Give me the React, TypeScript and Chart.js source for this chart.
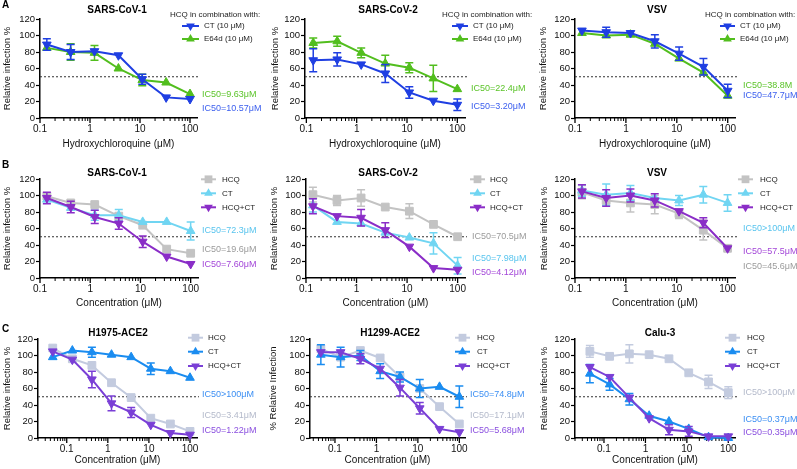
import React, { useEffect, useRef } from "react";
import { Chart, registerables } from "chart.js";
Chart.register(...registerables);

const FONT = '"Liberation Sans", Arial, Helvetica, sans-serif';
Chart.defaults.font.family = FONT;

// ---------- data ----------
const CONC_AB = [0.137, 0.41, 1.23, 3.7, 11.1, 33.3, 100];
const CONC_C = [0.0457, 0.137, 0.41, 1.23, 3.7, 11.1, 33.3, 100];
const X_TICK_LABELS = ["0.1", "1", "10", "100"];
const Y_TICKS = [0, 20, 40, 60, 80, 100, 120];

// Row A
const A1_CT = [89, 80, 81, 76, 47, 25, 23];
const A1_CT_ERR = [7, 9, 5, 5, 6, 2, 3];
const A1_E64D = [85, 80, 79, 60, 46, 43, 29];
const A1_E64D_ERR = [5, 10, 9, 2, 7, 5, 5];
const A1_IC50 = ["IC50=9.63\u03bcM", "IC50=10.57\u03bcM"];

const A2_CT = [70, 71, 65, 54, 31, 21, 16];
const A2_CT_ERR = [14, 8, 3, 11, 7, 4, 7];
const A2_E64D = [91, 93, 79, 66, 61, 48, 35];
const A2_E64D_ERR = [6, 6, 6, 10, 6, 16, 5];
const A2_IC50 = ["IC50=22.4\u03bcM", "IC50=3.20\u03bcM"];

const A3_CT = [106, 104, 103, 93, 78, 62, 33];
const A3_CT_ERR = [4, 6, 4, 8, 8, 10, 8];
const A3_E64D = [103, 100, 101, 90, 72, 55, 27];
const A3_E64D_ERR = [3, 4, 3, 4, 4, 5, 5];
const A3_IC50 = ["IC50=38.8M", "IC50=47.7\u03bcM"];

// Row B
const B1_HCQ = [99, 91, 89, 75, 64, 35, 30];
const B1_HCQ_ERR = [4, 3, 4, 4, 5, 5, 2];
const B1_CT = [95, 85, 76, 76, 68, 68, 57];
const B1_CT_ERR = [5, 4, 6, 7, 5, 2, 11];
const B1_COMBO = [97, 86, 74, 66, 44, 26, 17];
const B1_COMBO_ERR = [7, 7, 8, 7, 7, 2, 5];
const B1_IC50 = ["IC50=72.3\u03bcM", "IC50=19.6\u03bcM", "IC50=7.60\u03bcM"];

const B2_HCQ = [101, 94, 97, 86, 81, 65, 50];
const B2_HCQ_ERR = [9, 6, 10, 4, 9, 4, 2];
const B2_CT = [88, 68, 66, 55, 49, 42, 15];
const B2_CT_ERR = [8, 5, 4, 5, 5, 13, 10];
const B2_COMBO = [87, 75, 73, 58, 38, 12, 10];
const B2_COMBO_ERR = [9, 5, 10, 9, 5, 2, 2];
const B2_IC50 = ["IC50=70.5\u03bcM", "IC50=7.98\u03bcM", "IC50=4.12\u03bcM"];

const B3_HCQ = [104, 94, 91, 89, 78, 58, 36];
const B3_HCQ_ERR = [8, 6, 11, 11, 6, 12, 5];
const B3_CT = [106, 101, 103, 97, 94, 101, 91];
const B3_CT_ERR = [7, 13, 9, 4, 6, 10, 10];
const B3_COMBO = [105, 97, 100, 94, 81, 67, 36];
const B3_COMBO_ERR = [8, 10, 8, 8, 4, 6, 5];
const B3_IC50 = ["IC50>100\u03bcM", "IC50=57.5\u03bcM", "IC50=45.6\u03bcM"];

// Row C
const C1_HCQ = [109, 96, 88, 67, 49, 24, 17, 8];
const C1_HCQ_ERR = [2, 5, 2, 2, 5, 2, 1, 1];
const C1_CT = [98, 106, 104, 101, 98, 84, 81, 73];
const C1_CT_ERR = [5, 5, 6, 2, 2, 7, 2, 2];
const C1_COMBO = [105, 95, 71, 42, 31, 16, 6, 4];
const C1_COMBO_ERR = [3, 4, 10, 9, 6, 2, 2, 2];
const C1_IC50 = ["IC50>100\u03bcM", "IC50=3.41\u03bcM", "IC50=1.22\u03bcM"];

const C2_HCQ = [108, 98, 106, 97, 74, 60, 38, 17];
const C2_HCQ_ERR = [3, 4, 2, 2, 4, 2, 2, 2];
const C2_CT = [101, 98, 100, 81, 74, 60, 62, 50];
const C2_CT_ERR = [12, 12, 6, 9, 6, 11, 2, 13];
const C2_COMBO = [104, 104, 96, 84, 61, 36, 11, 7];
const C2_COMBO_ERR = [5, 2, 6, 3, 10, 7, 2, 2];
const C2_IC50 = ["IC50=74.8\u03bcM", "IC50=17.1\u03bcM", "IC50=5.68\u03bcM"];

const C3_HCQ = [105, 99, 102, 101, 96, 79, 68, 55];
const C3_HCQ_ERR = [7, 3, 11, 2, 4, 4, 8, 7];
const C3_CT = [78, 65, 47, 27, 20, 11, 1, 0];
const C3_CT_ERR = [11, 7, 7, 5, 3, 3, 1, 1];
const C3_COMBO = [86, 74, 49, 24, 10, 8, 2, 2];
const C3_COMBO_ERR = [3, 2, 4, 3, 6, 6, 2, 3];
const C3_IC50 = ["IC50>100\u03bcM", "IC50=0.37\u03bcM", "IC50=0.35\u03bcM"];

// ---------- styles ----------
const A_BLUE = "#1f3fe2";
const A_BLUE_T = "#3d60ee";
const A_GREEN = "#52be1e";
const A_GREEN_T = "#5cc42a";
const B_GRAY = "#c3c3c3";
const B_GRAY_T = "#9b9b9b";
const B_CYAN = "#70d5f2";
const B_CYAN_T = "#58c4ee";
const B_PURPLE = "#8a2dc7";
const B_PURPLE_T = "#a346d8";
const C_GRAY = "#c3cbdf";
const C_GRAY_T = "#b4bacb";
const C_BLUE = "#1a8cf0";
const C_BLUE_T = "#3c8ff3";
const C_PURPLE = "#7a3fd6";
const C_PURPLE_T = "#8a4fdf";

type Marker = "up" | "down" | "square";
type Series = { label: string; values: number[]; errors: number[]; color: string; marker: Marker };
type Panel = {
  key: string;
  z: number;
  letter?: string;
  letterY?: number;
  x: number; y: number; w: number; h: number;
  left: number; right: number; xTitleY: number;
  title: string; titleX: number; titleY: number;
  xTitle: string; yTitle: string; yTitleX: number;
  xMin: number; xMax: number; conc: number[];
  series: Series[];
  topFirst: boolean;
  legendTitle?: string; legendTitleX?: number; legendTitleY?: number;
  legendX1: number; legendX2: number; legendTextX: number; legendY: number[];
  ic50: string[]; ic50Colors: string[]; ic50X: number; ic50Y: number[];
};

const COMBO_TITLE = "HCQ in combination with:";
const HCQ_X = "Hydroxychloroquine (\u03bcM)";
const CONC_X = "Concentration (\u03bcM)";
const Y_T = "Relative infection %";

const rowA = (ct: number[], cte: number[], e: number[], ee: number[]): Series[] => [
  { label: "CT (10 \u03bcM)", values: ct, errors: cte, color: A_BLUE, marker: "down" },
  { label: "E64d (10 \u03bcM)", values: e, errors: ee, color: A_GREEN, marker: "up" },
];
const rowB = (h: number[], he: number[], c: number[], ce: number[], m: number[], me: number[]): Series[] => [
  { label: "HCQ", values: h, errors: he, color: B_GRAY, marker: "square" },
  { label: "CT", values: c, errors: ce, color: B_CYAN, marker: "up" },
  { label: "HCQ+CT", values: m, errors: me, color: B_PURPLE, marker: "down" },
];
const rowC = (h: number[], he: number[], c: number[], ce: number[], m: number[], me: number[]): Series[] => [
  { label: "HCQ", values: h, errors: he, color: C_GRAY, marker: "square" },
  { label: "CT", values: c, errors: ce, color: C_BLUE, marker: "up" },
  { label: "HCQ+CT", values: m, errors: me, color: C_PURPLE, marker: "down" },
];

const PANELS: Panel[] = [
  {
    key: "a1", z: 3, letter: "A", letterY: 5, x: 0, y: 0, w: 280, h: 160, left: 40, right: 197, xTitleY: 144,
    title: "SARS-CoV-1", titleX: 117, titleY: 10, xTitle: HCQ_X, yTitle: Y_T, yTitleX: 7,
    xMin: 0.1, xMax: 138, conc: CONC_AB, series: rowA(A1_CT, A1_CT_ERR, A1_E64D, A1_E64D_ERR), topFirst: true,
    legendTitle: COMBO_TITLE, legendTitleX: 170, legendTitleY: 15,
    legendX1: 182, legendX2: 199, legendTextX: 204, legendY: [26, 39],
    ic50: A1_IC50, ic50Colors: [A_GREEN_T, A_BLUE_T], ic50X: 202, ic50Y: [95, 109],
  },
  {
    key: "a2", z: 2, x: 265, y: 0, w: 280, h: 160, left: 40, right: 200, xTitleY: 144,
    title: "SARS-CoV-2", titleX: 123, titleY: 10, xTitle: HCQ_X, yTitle: Y_T, yTitleX: 10,
    xMin: 0.094, xMax: 142, conc: CONC_AB, series: rowA(A2_CT, A2_CT_ERR, A2_E64D, A2_E64D_ERR), topFirst: true,
    legendTitle: COMBO_TITLE, legendTitleX: 177, legendTitleY: 15,
    legendX1: 187, legendX2: 203, legendTextX: 208, legendY: [26, 39],
    ic50: A2_IC50, ic50Colors: [A_GREEN_T, A_BLUE_T], ic50X: 206, ic50Y: [89, 107],
  },
  {
    key: "a3", z: 1, x: 530, y: 0, w: 267, h: 160, left: 45, right: 205, xTitleY: 144,
    title: "VSV", titleX: 127, titleY: 10, xTitle: HCQ_X, yTitle: Y_T, yTitleX: 13,
    xMin: 0.1, xMax: 139, conc: CONC_AB, series: rowA(A3_CT, A3_CT_ERR, A3_E64D, A3_E64D_ERR), topFirst: true,
    legendTitle: COMBO_TITLE, legendTitleX: 175, legendTitleY: 15,
    legendX1: 190, legendX2: 205, legendTextX: 210, legendY: [26, 39],
    ic50: A3_IC50, ic50Colors: [A_GREEN_T, A_BLUE_T], ic50X: 213, ic50Y: [86, 96],
  },
  {
    key: "b1", z: 3, letter: "B", letterY: 5, x: 0, y: 160, w: 280, h: 160, left: 40, right: 198, xTitleY: 143,
    title: "SARS-CoV-1", titleX: 117, titleY: 13.5, xTitle: CONC_X, yTitle: Y_T, yTitleX: 7,
    xMin: 0.1, xMax: 140, conc: CONC_AB, series: rowB(B1_HCQ, B1_HCQ_ERR, B1_CT, B1_CT_ERR, B1_COMBO, B1_COMBO_ERR), topFirst: false,
    legendX1: 201, legendX2: 216, legendTextX: 222, legendY: [19.3, 33.3, 47.3],
    ic50: B1_IC50, ic50Colors: [B_CYAN_T, B_GRAY_T, B_PURPLE_T], ic50X: 202, ic50Y: [70.7, 90, 105],
  },
  {
    key: "b2", z: 2, x: 265, y: 160, w: 280, h: 160, left: 41, right: 200, xTitleY: 143,
    title: "SARS-CoV-2", titleX: 123, titleY: 13.5, xTitle: CONC_X, yTitle: Y_T, yTitleX: 9,
    xMin: 0.1, xMax: 140, conc: CONC_AB, series: rowB(B2_HCQ, B2_HCQ_ERR, B2_CT, B2_CT_ERR, B2_COMBO, B2_COMBO_ERR), topFirst: false,
    legendX1: 205, legendX2: 220, legendTextX: 225, legendY: [19.3, 33.3, 47.3],
    ic50: B2_IC50, ic50Colors: [B_GRAY_T, B_CYAN_T, B_PURPLE_T], ic50X: 207, ic50Y: [76.7, 99, 112.7],
  },
  {
    key: "b3", z: 1, x: 530, y: 160, w: 267, h: 160, left: 45, right: 205, xTitleY: 143,
    title: "VSV", titleX: 127, titleY: 13.5, xTitle: CONC_X, yTitle: Y_T, yTitleX: 14,
    xMin: 0.1, xMax: 140, conc: CONC_AB, series: rowB(B3_HCQ, B3_HCQ_ERR, B3_CT, B3_CT_ERR, B3_COMBO, B3_COMBO_ERR), topFirst: false,
    legendX1: 208, legendX2: 223, legendTextX: 230, legendY: [19.3, 33.3, 47.3],
    ic50: B3_IC50, ic50Colors: [B_CYAN_T, B_PURPLE_T, B_GRAY_T], ic50X: 213, ic50Y: [69, 91.7, 106.7],
  },
  {
    key: "c1", z: 3, letter: "C", letterY: 9, x: 0, y: 320, w: 280, h: 149, left: 38, right: 197, xTitleY: 140,
    title: "H1975-ACE2", titleX: 118, titleY: 13.5, xTitle: CONC_X, yTitle: Y_T, yTitleX: 7,
    xMin: 0.02, xMax: 148, conc: CONC_C, series: rowC(C1_HCQ, C1_HCQ_ERR, C1_CT, C1_CT_ERR, C1_COMBO, C1_COMBO_ERR), topFirst: false,
    legendX1: 188, legendX2: 203, legendTextX: 208, legendY: [17.7, 31.7, 46],
    ic50: C1_IC50, ic50Colors: [C_BLUE_T, C_GRAY_T, C_PURPLE_T], ic50X: 202, ic50Y: [75, 95.7, 111],
  },
  {
    key: "c2", z: 2, x: 265, y: 320, w: 280, h: 149, left: 45, right: 200, xTitleY: 140,
    title: "H1299-ACE2", titleX: 125, titleY: 13.5, xTitle: CONC_X, yTitle: "% Relative Infection", yTitleX: 8,
    xMin: 0.025, xMax: 137, conc: CONC_C, series: rowC(C2_HCQ, C2_HCQ_ERR, C2_CT, C2_CT_ERR, C2_COMBO, C2_COMBO_ERR), topFirst: false,
    legendX1: 190, legendX2: 205, legendTextX: 212, legendY: [17.7, 31.7, 46],
    ic50: C2_IC50, ic50Colors: [C_BLUE_T, C_GRAY_T, C_PURPLE_T], ic50X: 205, ic50Y: [75, 95.7, 111],
  },
  {
    key: "c3", z: 1, x: 530, y: 320, w: 267, h: 149, left: 45, right: 205, xTitleY: 140,
    title: "Calu-3", titleX: 130, titleY: 13.5, xTitle: CONC_X, yTitle: Y_T, yTitleX: 14,
    xMin: 0.02, xMax: 145, conc: CONC_C, series: rowC(C3_HCQ, C3_HCQ_ERR, C3_CT, C3_CT_ERR, C3_COMBO, C3_COMBO_ERR), topFirst: false,
    legendX1: 195, legendX2: 210, legendTextX: 217, legendY: [17.7, 31.7, 46],
    ic50: C3_IC50, ic50Colors: [C_GRAY_T, C_BLUE_T, C_PURPLE_T], ic50X: 213, ic50Y: [73, 100, 112.7],
  },
];

// ---------- helpers ----------
const isPow10 = (v: number) => Math.abs(Math.log10(v) - Math.round(Math.log10(v))) < 1e-6;

function logTicks(min: number, max: number): number[] {
  const out: number[] = [];
  for (let e = Math.floor(Math.log10(min)); e <= Math.ceil(Math.log10(max)); e++) {
    for (let m = 1; m <= 9; m++) {
      const v = Number((m * Math.pow(10, e)).toPrecision(6));
      if (v >= min * 0.999 && v <= max) out.push(v);
    }
  }
  return out;
}

function labelFor(v: number): string {
  if (!isPow10(v)) return "";
  const found = X_TICK_LABELS.find((l) => Math.abs(Number(l) / v - 1) < 1e-6);
  return found ?? "";
}

function drawMarker(ctx: CanvasRenderingContext2D, marker: Marker, x: number, y: number, r: number) {
  ctx.beginPath();
  if (marker === "square") {
    const s = Math.SQRT1_2 * r;
    ctx.rect(x - s, y - s, 2 * s, 2 * s);
  } else {
    const dir = marker === "up" ? -1 : 1;
    ctx.moveTo(x, y + dir * r);
    ctx.lineTo(x + 0.866 * r, y - dir * 0.5 * r);
    ctx.lineTo(x - 0.866 * r, y - dir * 0.5 * r);
    ctx.closePath();
  }
  ctx.fill();
}

function makePlugin(p: Panel) {
  return {
    id: "panelDeco_" + p.key,
    beforeDatasetsDraw(chart: any) {
      const { ctx, chartArea } = chart;
      const xs = chart.scales.x;
      const ys = chart.scales.y;
      const y50 = ys.getPixelForValue(50);
      ctx.save();
      ctx.setLineDash([2, 2]);
      ctx.lineWidth = 1;
      ctx.strokeStyle = "#333";
      ctx.beginPath();
      ctx.moveTo(chartArea.left, y50);
      ctx.lineTo(chartArea.right + 2, y50);
      ctx.stroke();
      ctx.restore();
      ctx.save();
      ctx.strokeStyle = "#000";
      for (const t of xs.ticks) {
        const px = xs.getPixelForValue(t.value);
        const major = isPow10(t.value);
        ctx.lineWidth = major ? 1.3 : 1;
        ctx.beginPath();
        ctx.moveTo(px, chartArea.bottom);
        ctx.lineTo(px, chartArea.bottom + (major ? 5 : 3));
        ctx.stroke();
      }
      ctx.restore();
    },
    beforeDatasetDraw(chart: any, args: any) {
      const s = p.series[args.index];
      if (!s) return;
      const { ctx } = chart;
      const ys = chart.scales.y;
      const meta = args.meta;
      ctx.save();
      ctx.strokeStyle = s.color;
      ctx.lineWidth = 1.5;
      meta.data.forEach((pt: any, i: number) => {
        const v = s.values[i];
        const e = s.errors[i];
        const yTop = ys.getPixelForValue(v + e);
        const yBot = ys.getPixelForValue(Math.max(0, v - e));
        if (Math.abs(yBot - yTop) < 9) return;
        const x = pt.x;
        ctx.beginPath();
        ctx.moveTo(x, yTop);
        ctx.lineTo(x, yBot);
        ctx.moveTo(x - 4, yTop);
        ctx.lineTo(x + 4, yTop);
        ctx.moveTo(x - 4, yBot);
        ctx.lineTo(x + 4, yBot);
        ctx.stroke();
      });
      ctx.restore();
    },
    afterDraw(chart: any) {
      const { ctx } = chart;
      ctx.save();
      ctx.textBaseline = "middle";
      if (p.letter) {
        ctx.fillStyle = "#000";
        ctx.font = `bold 10px ${FONT}`;
        ctx.textAlign = "left";
        ctx.fillText(p.letter, 2, p.letterY ?? 5);
      }
      ctx.fillStyle = "#000";
      ctx.font = `bold 10px ${FONT}`;
      ctx.textAlign = "center";
      ctx.fillText(p.title, p.titleX, p.titleY);
      ctx.textAlign = "left";
      ctx.font = `8px ${FONT}`;
      if (p.legendTitle) {
        ctx.fillStyle = "#222";
        ctx.fillText(p.legendTitle, p.legendTitleX!, p.legendTitleY!);
      }
      p.series.forEach((s, i) => {
        const y = p.legendY[i];
        ctx.strokeStyle = s.color;
        ctx.lineWidth = 2;
        ctx.beginPath();
        ctx.moveTo(p.legendX1, y);
        ctx.lineTo(p.legendX2, y);
        ctx.stroke();
        ctx.fillStyle = s.color;
        drawMarker(ctx, s.marker, (p.legendX1 + p.legendX2) / 2, y, s.marker === "square" ? 5.5 : 5);
        ctx.fillStyle = "#222";
        ctx.fillText(s.label, p.legendTextX, y);
      });
      ctx.font = `9px ${FONT}`;
      p.ic50.forEach((t, i) => {
        ctx.fillStyle = p.ic50Colors[i];
        ctx.fillText(t, p.ic50X, p.ic50Y[i]);
      });
      ctx.restore();
    },
  };
}

function buildConfig(p: Panel): any {
  const n = p.series.length;
  const tickVals = logTicks(p.xMin, p.xMax);
  const datasets = p.series.map((s, i) => ({
    label: s.label,
    data: p.conc.map((x, j) => ({ x, y: s.values[j] })),
    borderColor: s.color,
    backgroundColor: s.color,
    borderWidth: 2,
    tension: 0,
    pointStyle: s.marker === "square" ? "rect" : "triangle",
    pointRotation: s.marker === "down" ? 180 : 0,
    pointRadius: s.marker === "square" ? 5.5 : 5,
    pointBackgroundColor: s.color,
    pointBorderColor: s.color,
    pointBorderWidth: 1,
    order: p.topFirst ? i : n - 1 - i,
    clip: false,
  }));
  return {
    type: "line",
    data: { datasets },
    options: {
      animation: false,
      responsive: false,
      devicePixelRatio: 1,
      events: [],
      layout: { padding: { left: 0, top: 19, right: p.w - p.right, bottom: p.h - (p.xTitleY + 6) } },
      plugins: { legend: { display: false }, tooltip: { enabled: false }, title: { display: false } },
      scales: {
        x: {
          type: "logarithmic",
          min: p.xMin,
          max: p.xMax,
          afterBuildTicks: (scale: any) => {
            scale.ticks = tickVals.map((v) => ({ value: v, major: false }));
          },
          afterFit: (scale: any) => {
            scale.height = p.xTitleY + 6 - 118;
          },
          ticks: {
            autoSkip: false,
            maxRotation: 0,
            minRotation: 0,
            padding: 0,
            color: "#111",
            font: { size: 10, family: FONT },
            callback: (v: any) => labelFor(Number(v)),
          },
          grid: { display: true, drawOnChartArea: false, drawTicks: true, tickLength: 5, tickColor: "rgba(0,0,0,0)" },
          border: { display: true, color: "#000", width: 1.5 },
          title: { display: true, text: p.xTitle, color: "#111", font: { size: 10, family: FONT }, padding: { top: 0, bottom: 0 } },
        },
        y: {
          type: "linear",
          min: 0,
          max: 120,
          afterBuildTicks: (scale: any) => {
            scale.ticks = Y_TICKS.map((v) => ({ value: v }));
          },
          afterFit: (scale: any) => {
            scale.width = p.left;
          },
          ticks: { padding: 1, color: "#111", font: { size: 9.5, family: FONT } },
          grid: { display: true, drawOnChartArea: false, drawTicks: true, tickLength: 4, tickColor: "#000", tickWidth: 1.2 },
          border: { display: true, color: "#000", width: 1.5 },
          title: { display: true, text: p.yTitle, color: "#111", font: { size: 9.5, family: FONT }, padding: { top: p.yTitleX - 5.7, bottom: 0 } },
        },
      },
    },
    plugins: [makePlugin(p)],
  };
}

function PanelChart({ p }: { p: Panel }) {
  const ref = useRef<HTMLCanvasElement | null>(null);
  useEffect(() => {
    const canvas = ref.current;
    if (!canvas) return;
    const chart = new Chart(canvas, buildConfig(p));
    return () => chart.destroy();
  }, [p]);
  return (
    <canvas
      ref={ref}
      width={p.w}
      height={p.h}
      style={{ position: "absolute", left: p.x, top: p.y, width: p.w, height: p.h, display: "block", zIndex: p.z, background: "transparent" }}
    />
  );
}

export default function App() {
  return (
    <div style={{ position: "absolute", left: 0, top: 0, width: 797, height: 469, background: "#fff", overflow: "hidden" }}>
      {PANELS.map((p) => (
        <PanelChart key={p.key} p={p} />
      ))}
    </div>
  );
}
